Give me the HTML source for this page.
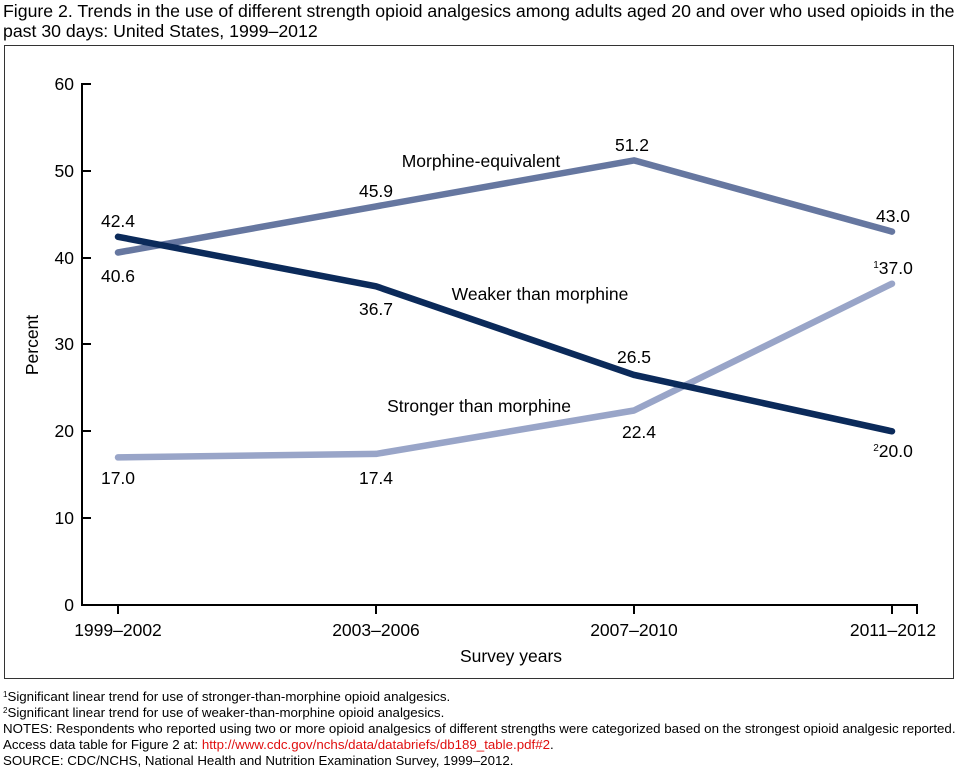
<!DOCTYPE html>
<html><head><meta charset="utf-8"><style>
body{margin:0;background:#fff;width:960px;height:770px;overflow:hidden;font-family:"Liberation Sans",Arial,sans-serif;}
</style></head><body>
<svg width="960" height="770" xmlns="http://www.w3.org/2000/svg" font-family="Liberation Sans, Arial, sans-serif">
<text x="3" y="17" font-size="17.7">Figure 2. Trends in the use of different strength opioid analgesics among adults aged 20 and over who used opioids in the</text>
<text x="3" y="37" font-size="17.7">past 30 days: United States, 1999–2012</text>
<rect x="4.5" y="45.5" width="949" height="633" fill="none" stroke="#333" stroke-width="1"/>
<g stroke="#000" stroke-width="2" fill="none">
<line x1="82" y1="83" x2="82" y2="606"/>
<line x1="81" y1="605" x2="918" y2="605"/>
<line x1="82" y1="84" x2="91" y2="84"/>
<line x1="82" y1="171" x2="91" y2="171"/>
<line x1="82" y1="258" x2="91" y2="258"/>
<line x1="82" y1="344" x2="91" y2="344"/>
<line x1="82" y1="431" x2="91" y2="431"/>
<line x1="82" y1="518" x2="91" y2="518"/>
<line x1="118" y1="605" x2="118" y2="614"/>
<line x1="376" y1="605" x2="376" y2="614"/>
<line x1="634" y1="605" x2="634" y2="614"/>
<line x1="892" y1="605" x2="892" y2="614"/>
<line x1="917" y1="605" x2="917" y2="614"/>
</g>
<g font-size="17.5" text-anchor="end">
<text x="74" y="90">60</text><text x="74" y="177">50</text><text x="74" y="264">40</text>
<text x="74" y="350">30</text><text x="74" y="437">20</text><text x="74" y="524">10</text><text x="74" y="611">0</text>
</g>
<g font-size="17.5" text-anchor="middle">
<text x="118" y="636">1999–2002</text><text x="376" y="636">2003–2006</text>
<text x="634" y="636">2007–2010</text><text x="893" y="636">2011–2012</text>
<text x="511" y="662">Survey years</text>
</g>
<text transform="translate(38,345) rotate(-90)" font-size="17.5" text-anchor="middle">Percent</text>
<g fill="none" stroke-width="6.5" stroke-linejoin="round" stroke-linecap="round">
<polyline stroke="#6677a0" points="118,252.5 376,206.4 634,160.4 892,231.6"/>
<polyline stroke="#99a5c8" points="118,457.4 376,453.9 634,410.5 892,283.7"/>
<polyline stroke="#0b2a5a" points="118,236.8 376,286.3 634,374.9 892,431.3"/>
</g>
<g font-size="17.5" text-anchor="middle">
<text x="118" y="227">42.4</text><text x="118" y="282">40.6</text>
<text x="376" y="197">45.9</text><text x="632" y="151">51.2</text><text x="893" y="222">43.0</text>
<text x="376" y="315">36.7</text><text x="634" y="363">26.5</text>
<text x="118" y="484">17.0</text><text x="376" y="484">17.4</text><text x="639" y="438">22.4</text>
<text x="893" y="274"><tspan font-size="10" dy="-6">1</tspan><tspan dy="6">37.0</tspan></text>
<text x="893" y="457"><tspan font-size="10" dy="-6">2</tspan><tspan dy="6">20.0</tspan></text>
<text x="481" y="167">Morphine-equivalent</text>
<text x="540" y="300">Weaker than morphine</text>
<text x="479" y="412">Stronger than morphine</text>
</g>
<g font-size="13.3">
<text x="3" y="701"><tspan font-size="8" dy="-4">1</tspan><tspan dy="4">Significant linear trend for use of stronger-than-morphine opioid analgesics.</tspan></text>
<text x="3" y="717"><tspan font-size="8" dy="-4">2</tspan><tspan dy="4">Significant linear trend for use of weaker-than-morphine opioid analgesics.</tspan></text>
<text x="3" y="733">NOTES: Respondents who reported using two or more opioid analgesics of different strengths were categorized based on the strongest opioid analgesic reported.</text>
<text x="3" y="749">Access data table for Figure 2 at: <tspan fill="#e01010">http://www.cdc.gov/nchs/data/databriefs/db189_table.pdf#2</tspan>.</text>
<text x="3" y="765">SOURCE: CDC/NCHS, National Health and Nutrition Examination Survey, 1999–2012.</text>
</g>
</svg>
</body></html>
